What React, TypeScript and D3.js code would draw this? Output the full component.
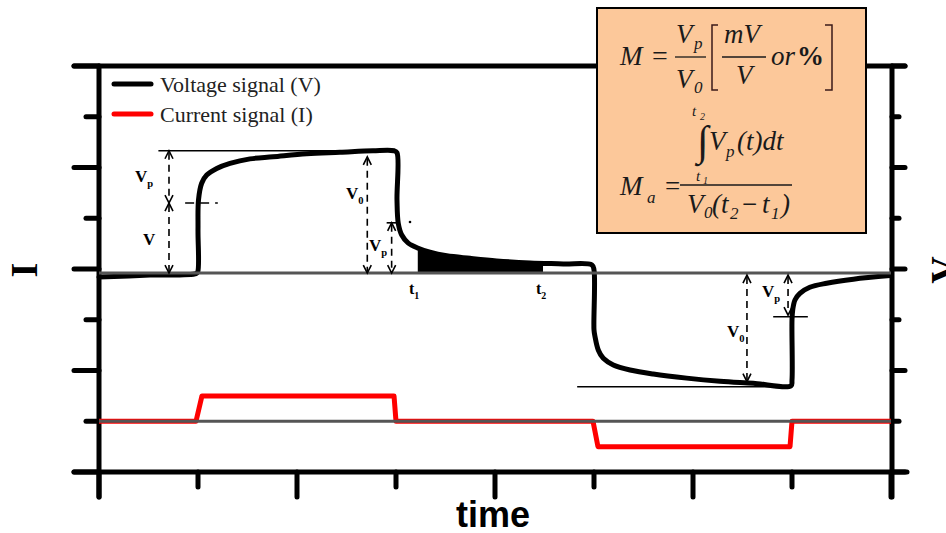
import React from "react";
import * as d3 from "d3";

const W = 946;
const H = 533;

// axis ticks (data units)
const timeTicks = [0, 1, 2, 3, 4, 5, 6, 7, 8];
const levelTicks = [-4, -3, -2, -1, 0, 1, 2, 3, 4];

// voltage signal (time, level)
const voltageTime = [
  0, 0.515, 0.98, 0.997, 1.0, 1.005, 1.037, 1.088, 1.189, 1.323, 1.525, 1.758, 2.098, 2.434, 2.768, 2.98,
  3.01, 3.01, 3.023, 3.058, 3.124, 3.225, 3.343, 3.512, 3.747, 4.017, 4.354, 4.69, 4.98,
  5.0, 5.0, 5.01, 5.044, 5.094, 5.195, 5.364, 5.599, 5.936, 6.273, 6.609, 6.99,
  7.0, 7.0, 7.007, 7.03, 7.08, 7.18, 7.35, 7.62, 7.99,
];
const voltageValue = [
  -0.16, -0.12, -0.09, -0.06, 0.77, 1.36, 1.69, 1.85, 1.98, 2.08, 2.17, 2.21, 2.27, 2.3, 2.33, 2.33,
  2.29, 1.36, 0.9, 0.67, 0.51, 0.41, 0.33, 0.26, 0.21, 0.16, 0.12, 0.1, 0.08,
  -0.02, -1.2, -1.33, -1.6, -1.76, -1.89, -1.99, -2.07, -2.15, -2.21, -2.25, -2.3,
  -2.19, -1.0, -0.81, -0.61, -0.48, -0.36, -0.28, -0.2, -0.13,
];
// decay segment used for the shaded integral area
const decayStart = 18;
const decayEnd = 28;
const t1 = 3.22;
const t2 = 4.485;

// current signal (time, current)
const currentTime = [0, 0.98, 1.04, 2.98, 3.0, 4.99, 5.04, 6.98, 7.0, 8];
const currentValue = [0, 0, 0.5, 0.5, 0, 0, -0.5, -0.5, 0, 0];
const currentOffset = -3;

const voltageBaseline = -0.08;

// annotation dimension arrows: time, from level, to level
const arrowTime = [0.707, 0.707, 2.71, 2.956, 6.545, 6.96];
const arrowFrom = [2.33, 1.3, 2.21, 0.91, -0.12, -0.12];
const arrowTo = [1.3, -0.08, -0.08, -0.08, -2.22, -0.91];

// annotation reference lines: t start, t end, level, dashed
const refStart = [0.6, 0.87, 4.83, 6.81];
const refEnd = [2.99, 1.2, 6.98, 7.16];
const refLevel = [2.33, 1.3, -2.32, -0.94];
const refDashed = [false, true, false, false];

const legendLabels = ["Voltage signal (V)", "Current signal (I)"];
const legendColors = ["#000000", "#ff0000"];

const x = d3.scaleLinear().domain([0, 8]).range([99, 891]);
const y = d3.scaleLinear().domain([-4, 4]).range([472, 66]);

const serif = "'Liberation Serif', 'Times New Roman', serif";
const sans = "'Liberation Sans', Arial, sans-serif";

function Arrow({ xp, ya, yb }: { xp: number; ya: number; yb: number }) {
  const da = yb > ya ? 1 : -1; // direction from a to b
  const head = (yt: number, dir: number) =>
    `M${xp - 4},${yt - dir * 8} L${xp},${yt} L${xp + 4},${yt - dir * 8}`;
  return (
    <g stroke="#000" fill="none" strokeWidth={1.6}>
      <line x1={xp} x2={xp} y1={ya + da * 2} y2={yb - da * 2} strokeDasharray="7,5" />
      <path d={head(ya, -da)} />
      <path d={head(yb, da)} />
    </g>
  );
}

function SubLabel({ xp, yp, main, sub, size = 17 }: { xp: number; yp: number; main: string; sub: string; size?: number }) {
  return (
    <text x={xp} y={yp} fontFamily={serif} fontWeight="bold" fontSize={size} fill="#000">
      {main}
      <tspan fontSize={size * 0.62} dy={5}>{sub}</tspan>
    </text>
  );
}

export default function App() {
  const vPts: [number, number][] = voltageTime.map((t, i) => [t, voltageValue[i]]);
  const iPts: [number, number][] = currentTime.map((t, i) => [t, currentValue[i] + currentOffset]);
  const decayPts = vPts.slice(decayStart, decayEnd + 1);

  const curve = d3.curveCatmullRom.alpha(0.5);
  const vLine = d3.line<[number, number]>().x((d) => x(d[0])).y((d) => y(d[1])).curve(curve);
  const iLine = d3.line<[number, number]>().x((d) => x(d[0])).y((d) => y(d[1]));
  const area = d3
    .area<[number, number]>()
    .x((d) => x(d[0]))
    .y0(y(voltageBaseline))
    .y1((d) => y(d[1]))
    .curve(curve);

  const fT = { fontFamily: serif, fontStyle: "italic" as const, fill: "#1a1a1a" };

  return (
    <svg width={W} height={H} style={{ position: "absolute", left: 0, top: 0, background: "#fff" }}>
      <defs>
        <clipPath id="intClip">
          <rect x={x(t1)} y={0} width={x(t2) - x(t1)} height={H} />
        </clipPath>
      </defs>

      {/* axes frame */}
      <g stroke="#000" strokeWidth={5} strokeLinecap="round">
        <line x1={x(0)} x2={x(0)} y1={y(4)} y2={497} />
        <line x1={x(8) + 1} x2={x(8) + 1} y1={y(4)} y2={497} />
        <line x1={74} x2={905} y1={y(4)} y2={y(4)} />
        <line x1={74} x2={907} y1={y(-4)} y2={y(-4)} />
        {levelTicks.map((v) => (
          <g key={"lt" + v}>
            <line x1={v % 2 === 0 ? 74 : 86} x2={x(0)} y1={y(v)} y2={y(v)} />
            <line x1={x(8) + 1} x2={v % 2 === 0 ? 905 : 899} y1={y(v)} y2={y(v)} />
          </g>
        ))}
        {timeTicks.map((t) => (
          <line key={"tt" + t} x1={x(t)} x2={x(t)} y1={y(-4)} y2={t % 2 === 0 ? 497 : 487} />
        ))}
      </g>

      {/* integral shading */}
      <path d={area(decayPts) || ""} fill="#000" clipPath="url(#intClip)" />

      {/* current signal */}
      <path d={iLine(iPts) || ""} fill="none" stroke="#ff0000" strokeWidth={5} strokeLinejoin="round" />

      {/* voltage signal */}
      <path d={vLine(vPts) || ""} fill="none" stroke="#000" strokeWidth={5} strokeLinejoin="round" strokeLinecap="round" />

      {/* zero lines */}
      <line x1={x(0)} x2={x(8)} y1={y(voltageBaseline)} y2={y(voltageBaseline)} stroke="#555" strokeWidth={3} />
      <line x1={x(0)} x2={x(8)} y1={y(currentOffset)} y2={y(currentOffset)} stroke="#555" strokeWidth={3} />

      {/* reference lines */}
      {refLevel.map((v, i) => (
        <line
          key={"ref" + i}
          x1={x(refStart[i])}
          x2={x(refEnd[i])}
          y1={y(v)}
          y2={y(v)}
          stroke="#000"
          strokeWidth={1.6}
          strokeDasharray={refDashed[i] ? "9,6" : undefined}
        />
      ))}
      <line x1={x(2.956) - 5} x2={x(2.956) + 5} y1={y(0.91)} y2={y(0.91)} stroke="#000" strokeWidth={1.6} />

      {arrowTime.map((t, i) => (
        <Arrow key={"ar" + i} xp={x(t)} ya={y(arrowFrom[i])} yb={y(arrowTo[i])} />
      ))}
      <circle cx={410} cy={222} r={1.3} fill="#000" />

      {/* annotation labels */}
      <SubLabel xp={135} yp={182} main="V" sub="p" />
      <text x={143} y={245} fontFamily={serif} fontWeight="bold" fontSize={17}>V</text>
      <SubLabel xp={346} yp={199} main="V" sub="0" />
      <SubLabel xp={369} yp={251} main="V" sub="p" />
      <SubLabel xp={727} yp={337} main="V" sub="0" />
      <SubLabel xp={762} yp={297} main="V" sub="p" />
      <SubLabel xp={409} yp={294} main="t" sub="1" size={16} />
      <SubLabel xp={536} yp={294} main="t" sub="2" size={16} />

      {/* legend */}
      {legendLabels.map((lab, i) => (
        <g key={"lg" + i}>
          <line x1={114} x2={151} y1={84 + i * 30} y2={84 + i * 30} stroke={legendColors[i]} strokeWidth={5} strokeLinecap="round" />
          <text x={160} y={92 + i * 30} fontFamily={serif} fontSize={22} fill="#222">{lab}</text>
        </g>
      ))}

      {/* axis titles */}
      <text transform="translate(37,270) rotate(-90)" textAnchor="middle" fontFamily={serif} fontWeight="bold" fontSize={38}>I</text>
      <text transform="translate(957,270) rotate(-90)" textAnchor="middle" fontFamily={serif} fontWeight="bold" fontSize={38}>V</text>
      <text x={493} y={527} textAnchor="middle" fontFamily={sans} fontWeight="bold" fontSize={36}>time</text>

      {/* formula box */}
      <rect x={597} y={8} width={269} height={225} fill="#fcc89a" stroke="#000" strokeWidth={2} />
      <g>
        <text x={620} y={65} fontSize={27} {...fT}>M</text>
        <text x={652} y={65} fontSize={28} fontFamily={serif} fill="#1a1a1a">=</text>
        <text x={676} y={43} fontSize={27} {...fT}>V</text>
        <text x={694} y={49} fontSize={17} {...fT}>p</text>
        <line x1={675} x2={706} y1={57} y2={57} stroke="#1a1a1a" strokeWidth={1.3} />
        <text x={676} y={88} fontSize={27} {...fT}>V</text>
        <text x={694} y={93} fontSize={17} {...fT}>0</text>
        <path d="M718,25 H712 V90 H718" fill="none" stroke="#3a1a1a" strokeWidth={1.5} />
        <path d="M825,25 H832 V90 H825" fill="none" stroke="#3a1a1a" strokeWidth={1.5} />
        <text x={724} y={43} fontSize={27} {...fT}>mV</text>
        <line x1={722} x2={766} y1={57} y2={57} stroke="#1a1a1a" strokeWidth={1.3} />
        <text x={736} y={84} fontSize={27} {...fT}>V</text>
        <text x={771} y={65} fontSize={27} {...fT}>or</text>
        <text x={797} y={65} fontSize={27} fontFamily={serif} fontWeight="bold" fill="#1a1a1a">%</text>

        <text x={692} y={116} fontSize={15} {...fT}>t</text>
        <text x={700} y={120} fontSize={10} {...fT}>2</text>
        <text x={697} y={155} fontSize={42} fontFamily={serif} fill="#1a1a1a">∫</text>
        <text x={709} y={150} fontSize={27} {...fT}>V</text>
        <text x={726} y={157} fontSize={17} {...fT}>p</text>
        <text x={737} y={150} fontSize={27} {...fT}>(t)dt</text>
        <text x={696} y={181} fontSize={15} {...fT}>t</text>
        <text x={703} y={184} fontSize={10} {...fT}>1</text>

        <text x={620} y={195} fontSize={27} {...fT}>M</text>
        <text x={647} y={203} fontSize={17} {...fT}>a</text>
        <text x={665} y={195} fontSize={27} fontFamily={serif} fill="#1a1a1a">=</text>
        <line x1={680} x2={792} y1={185} y2={185} stroke="#1a1a1a" strokeWidth={1.3} />
        <text x={687} y={213} fontSize={27} {...fT}>V</text>
        <text x={704} y={218} fontSize={17} {...fT}>0</text>
        <text x={712} y={213} fontSize={27} {...fT}>(t</text>
        <text x={730} y={219} fontSize={17} {...fT}>2</text>
        <text x={742} y={213} fontSize={27} fontFamily={serif} fill="#1a1a1a">−</text>
        <text x={762} y={213} fontSize={27} {...fT}>t</text>
        <text x={771} y={219} fontSize={17} {...fT}>1</text>
        <text x={781} y={213} fontSize={27} {...fT}>)</text>
      </g>
    </svg>
  );
}
